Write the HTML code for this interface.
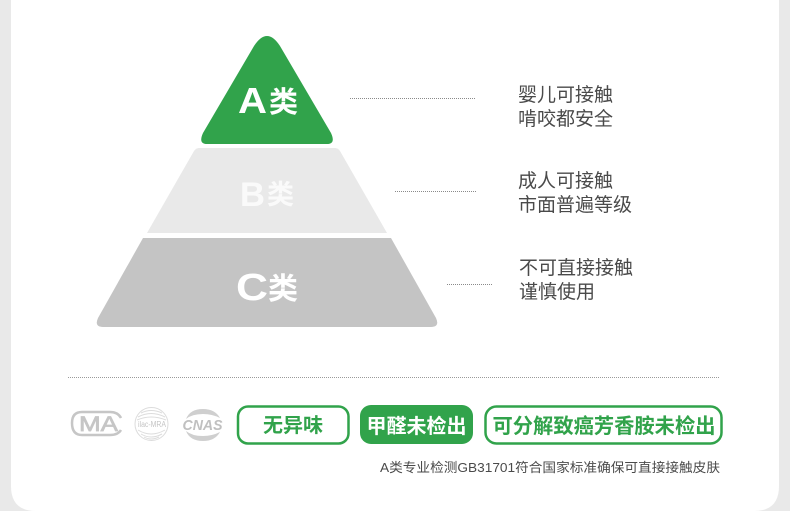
<!DOCTYPE html>
<html><head><meta charset="utf-8">
<style>
html,body{margin:0;padding:0;background:#e9e9e9}
svg{display:block}
text{font-family:"Liberation Sans","Noto Sans CJK SC",sans-serif}
</style></head>
<body>
<svg width="790" height="511" viewBox="0 0 790 511" xmlns="http://www.w3.org/2000/svg">
<rect width="790" height="511" fill="#e9e9e9"/>
<path d="M11 0H779V486Q779 511 754 511H36Q11 511 11 486Z" fill="#fff"/>

<!-- pyramid -->
<path d="M254 46Q267 26 280 46L331 133Q336 144 327 144H207Q198 144 203 133Z" fill="#31a34b"/>
<path d="M199 148H335Q338 148 340 151L387 233H147L194 151Q196 148 199 148Z" fill="#e9e9e9"/>
<path d="M143 238H391L436 318Q440 327 431 327H103Q94 327 98 318Z" fill="#c4c4c4"/>

<text x="238" y="113" font-size="36" font-weight="700" fill="#fff" textLength="29" lengthAdjust="spacingAndGlyphs">A</text>
<text x="269" y="112" font-size="29" font-weight="700" fill="#fff">类</text>
<text x="240" y="206" font-size="34" font-weight="700" fill="#fafafa" textLength="25" lengthAdjust="spacingAndGlyphs">B</text>
<text x="267" y="204" font-size="27" font-weight="700" fill="#fafafa">类</text>
<text x="236" y="300" font-size="38" font-weight="700" fill="#fff" textLength="32" lengthAdjust="spacingAndGlyphs">C</text>
<text x="268" y="299" font-size="30" font-weight="700" fill="#fff">类</text>

<!-- dotted leaders -->
<g stroke="#8a8a8a" stroke-width="1" stroke-dasharray="1 1" fill="none">
<path d="M350 98.500H475"/>
<path d="M395 191.500H476"/>
<path d="M447 284.500H492"/>
<path d="M68 377.500H720" stroke="#9a9a9a"/>
</g>

<!-- right labels -->
<g font-size="19" fill="#4a4a4a">
<text x="518" y="101">婴儿可接触</text>
<text x="518" y="125">啃咬都安全</text>
<text x="518" y="187">成人可接触</text>
<text x="518" y="211">市面普遍等级</text>
<text x="519" y="274">不可直接接触</text>
<text x="519" y="298">谨慎使用</text>
</g>

<!-- CMA logo -->
<path d="M121 418Q118 412 110 412H82Q72 412 72 423Q72 435 82 435H110Q118 435 121 430" fill="none" stroke="#c6c6c6" stroke-width="2.500"/>
<text x="79" y="431" font-size="21" fill="#c6c6c6" stroke="#c6c6c6" stroke-width="0.700" textLength="39" lengthAdjust="spacingAndGlyphs">MA</text>

<!-- ISO logo -->
<g fill="none" stroke="#dcdcdc" stroke-width="1">
<circle cx="151.500" cy="424" r="16.500"/>
<path d="M141 413Q151 408 162 413M138 417Q151 410 165 417M137 420Q151 414 166 420M138 430Q151 438 165 430M141 434Q151 440 162 434M144 437Q151 441 159 437"/>
</g>
<text x="152" y="427" font-size="8" fill="#c4c4c4" text-anchor="middle" textLength="28" lengthAdjust="spacingAndGlyphs">ilac-MRA</text>

<!-- CNAS logo -->
<path d="M186 419Q190 409 203 409Q215 409 220 418Q212 414 203 414Q192 414 186 419Z" fill="#cfcfcf"/>
<path d="M186 431Q190 441 203 441Q215 441 220 432Q212 436 203 436Q192 436 186 431Z" fill="#cfcfcf"/>
<text x="202.500" y="430" font-size="15" font-weight="700" font-style="italic" fill="#c0c0c0" text-anchor="middle" textLength="40" lengthAdjust="spacingAndGlyphs">CNAS</text>

<!-- badges -->
<rect x="238" y="406.500" width="110.500" height="37" rx="10" fill="#fff" stroke="#31a34b" stroke-width="2.500"/>
<text x="293" y="432" font-size="20" font-weight="700" fill="#31a34b" text-anchor="middle">无异味</text>

<rect x="360" y="405" width="113" height="39" rx="11" fill="#31a34b"/>
<text x="416.500" y="433" font-size="20" font-weight="700" fill="#fff" text-anchor="middle">甲醛未检出</text>

<rect x="485.500" y="406.500" width="236" height="37" rx="11" fill="#fff" stroke="#31a34b" stroke-width="2.500"/>
<text x="604" y="433" font-size="20.500" font-weight="700" fill="#31a34b" text-anchor="middle" textLength="223" lengthAdjust="spacingAndGlyphs">可分解致癌芳香胺未检出</text>

<text x="720" y="472" font-size="13" fill="#4a4a4a" text-anchor="end" textLength="340" lengthAdjust="spacingAndGlyphs">A类专业检测GB31701符合国家标准确保可直接接触皮肤</text>
</svg>
</body></html>
